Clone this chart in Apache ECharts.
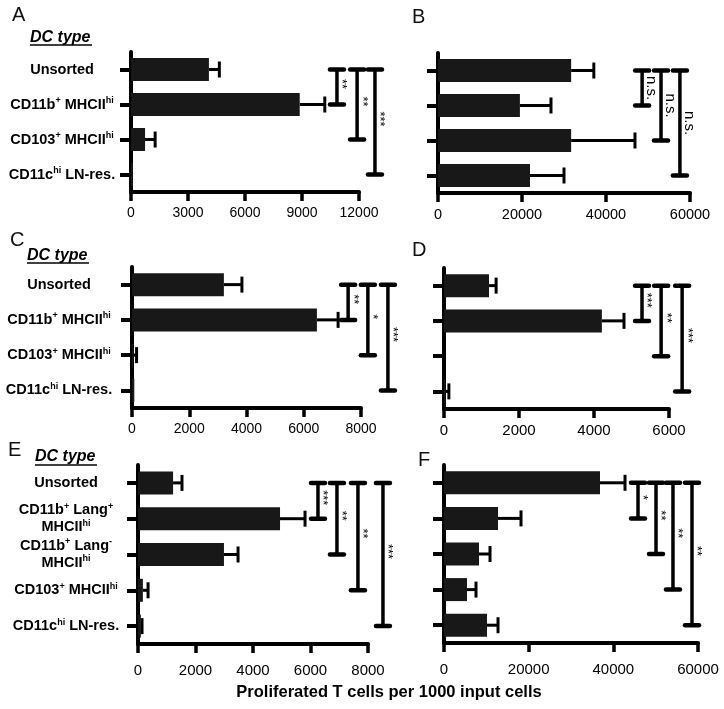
<!DOCTYPE html>
<html>
<head>
<meta charset="utf-8">
<script src="https://cdn.jsdelivr.net/npm/echarts@6/dist/echarts.min.js"></script>
<style>html,body{margin:0;padding:0;background:#fff}#c{width:724px;height:709px}</style>
</head>
<body>
<div id="c"></div>
<script>
// ---------- DATA ----------
const catsABCD = ['Unsorted', 'CD11b^+ MHCII^hi', 'CD103^+ MHCII^hi', 'CD11c^hi LN-res.'];
const catsEF = ['Unsorted', 'CD11b^+ Lang^+\nMHCII^hi', 'CD11b^+ Lang^-\nMHCII^hi', 'CD103^+ MHCII^hi', 'CD11c^hi LN-res.'];

const ticksA = [0, 3000, 6000, 9000, 12000];
const ticksB = [0, 20000, 40000, 60000];
const ticksC = [0, 2000, 4000, 6000, 8000];
const ticksD = [0, 2000, 4000, 6000];
const ticksE = [0, 2000, 4000, 6000, 8000];
const ticksF = [0, 20000, 40000, 60000];

const meanA = [4100, 8880, 740, 90];
const semA  = [550, 1320, 530, 0];
const meanB = [31700, 19500, 31700, 21900];
const semB  = [5400, 7400, 15200, 8100];
const meanC = [3210, 6460, 50, 80];
const semC  = [630, 740, 110, 0];
const meanD = [1200, 4210, 0, 40];
const semD  = [190, 590, 0, 90];
const meanE = [1220, 4940, 2990, 170, 100];
const semE  = [310, 870, 490, 180, 40];
const meanF = [36850, 12760, 8270, 5430, 10160];
const semF  = [5910, 5430, 2600, 2130, 2600];

// significance brackets: [x value, from category, to category]
const sigA = [[10840, 0, 1], [11900, 0, 2], [12840, 0, 3]];
const sigLabA = ['**', '**', '***'];
const sigB = [[48600, 0, 1], [53100, 0, 2], [57600, 0, 3]];
const sigLabB = ['n.s.', 'n.s.', 'n.s.'];
const sigC = [[7550, 0, 1], [8240, 0, 2], [8940, 0, 3]];
const sigLabC = ['**', '*', '***'];
const sigD = [[5280, 0, 1], [5790, 0, 2], [6350, 0, 3]];
const sigLabD = ['***', '**', '***'];
const sigE = [[6260, 0, 1], [6920, 0, 2], [7650, 0, 3], [8520, 0, 4]];
const sigLabE = ['***', '**', '**', '***'];
const sigF = [[45830, 0, 1], [50080, 0, 2], [54090, 0, 3], [58580, 0, 4]];
const sigLabF = ['*', '**', '**', '**'];

const panelLetters = ['A', 'B', 'C', 'D', 'E', 'F'];
const groupTitle = 'DC type';
const xTitle = 'Proliferated T cells per 1000 input cells';

// ---------- LAYOUT ----------
const FONT = "'Liberation Sans', Arial, Helvetica, sans-serif";
const panels = [
  {cats: catsABCD, ticks: ticksA, mean: meanA, sem: semA, sig: sigA, sigLab: sigLabA,
   left: 131, top: 52, width: 228, height: 140, tickFont: 14, xMargin: 14, showLabels: true, labMargin: 69},
  {cats: catsABCD, ticks: ticksB, mean: meanB, sem: semB, sig: sigB, sigLab: sigLabB,
   left: 438, top: 53, width: 252, height: 140, tickFont: 14.5, xMargin: 14, showLabels: false},
  {cats: catsABCD, ticks: ticksC, mean: meanC, sem: semC, sig: sigC, sigLab: sigLabC,
   left: 132, top: 267, width: 229, height: 141, tickFont: 14, xMargin: 14, showLabels: true, labMargin: 73},
  {cats: catsABCD, ticks: ticksD, mean: meanD, sem: semD, sig: sigD, sigLab: sigLabD,
   left: 444, top: 268, width: 225, height: 141, tickFont: 15, xMargin: 14, showLabels: false},
  {cats: catsEF, ticks: ticksE, mean: meanE, sem: semE, sig: sigE, sigLab: sigLabE,
   left: 138, top: 465, width: 230, height: 179, tickFont: 15, xMargin: 19, showLabels: true, labMargin: 72},
  {cats: catsEF, ticks: ticksF, mean: meanF, sem: semF, sig: sigF, sigLab: sigLabF,
   left: 444, top: 465, width: 254, height: 178, tickFont: 15, xMargin: 19, showLabels: false}
];

function richLabel(s) {
  return s.split('\n').map(function (line) {
    let out = '';
    const re = /([^\^]+)|\^(\S+)/g;
    let m;
    while ((m = re.exec(line)) !== null) {
      if (m[1] !== undefined) out += '{b|' + m[1] + '}';
      else out += '{s|' + m[2] + '}';
    }
    return out;
  }).join('\n');
}

const grids = [], xAxes = [], yAxes = [], series = [];
panels.forEach(function (p, i) {
  grids.push({left: p.left, top: p.top, width: p.width, height: p.height,
              containLabel: false, outerBoundsMode: 'none'});
  const t = p.ticks;
  xAxes.push({
    type: 'value', gridIndex: i, min: t[0], max: t[t.length - 1], interval: t[1] - t[0],
    splitLine: {show: false},
    axisLine: {show: true, lineStyle: {color: '#000', width: 4}},
    axisTick: {show: true, length: 9, lineStyle: {color: '#000', width: 3.5}},
    axisLabel: {show: true, color: '#000', fontFamily: FONT, fontSize: p.tickFont, margin: p.xMargin,
                showMinLabel: true, showMaxLabel: true,
                formatter: function (v) { return String(v); }}
  });
  yAxes.push({
    type: 'category', gridIndex: i, data: p.cats, inverse: true,
    axisLine: {show: true, lineStyle: {color: '#000', width: 4}},
    axisTick: {show: true, alignWithLabel: true, length: 11, lineStyle: {color: '#000', width: 4}},
    axisLabel: {
      show: p.showLabels, margin: p.labMargin || 8, align: 'center', interval: 0,
      formatter: richLabel,
      rich: {
        b: {fontFamily: FONT, fontWeight: 'bold', fontSize: 14.5, color: '#000', lineHeight: 17},
        s: {fontFamily: FONT, fontWeight: 'bold', fontSize: 9, color: '#000', verticalAlign: 'top', lineHeight: 17}
      }
    }
  });
  series.push({
    type: 'bar', xAxisIndex: i, yAxisIndex: i, data: p.mean, barWidth: 23,
    itemStyle: {color: '#181818'}, silent: true
  });
  const errData = p.mean.map(function (v, k) { return [k, v, v + p.sem[k]]; }).filter(function (d) { return d[2] > d[1]; });
  series.push({
    type: 'custom', xAxisIndex: i, yAxisIndex: i, clip: false, silent: true,
    encode: {x: [1, 2], y: 0},
    data: errData,
    renderItem: function (params, api) {
      const a = api.coord([api.value(1), api.value(0)]);
      const b = api.coord([api.value(2), api.value(0)]);
      return {type: 'group', children: [
        {type: 'line', shape: {x1: a[0], y1: a[1], x2: b[0], y2: b[1]}, style: {stroke: '#000', lineWidth: 3}},
        {type: 'line', shape: {x1: b[0], y1: b[1] - 8, x2: b[0], y2: b[1] + 8}, style: {stroke: '#000', lineWidth: 3}}
      ]};
    }
  });
  series.push({
    type: 'custom', xAxisIndex: i, yAxisIndex: i, clip: false, silent: true,
    encode: {x: 0, y: [1, 2]},
    data: p.sig.map(function (d, k) { return d.concat([k]); }),
    renderItem: function (params, api) {
      const k = api.value(3);
      const a = api.coord([api.value(0), api.value(1)]);
      const b = api.coord([api.value(0), api.value(2)]);
      const lab = p.sigLab[k];
      const isNS = lab === 'n.s.';
      const midY = (a[1] + b[1]) / 2 + (isNS ? 0 : -3);
      return {type: 'group', children: [
        {type: 'line', shape: {x1: a[0], y1: a[1], x2: b[0], y2: b[1]}, style: {stroke: '#000', lineWidth: 3.5}},
        {type: 'line', shape: {x1: a[0] - 7, y1: a[1], x2: a[0] + 7, y2: a[1]}, style: {stroke: '#000', lineWidth: 4.5, lineCap: 'round'}},
        {type: 'line', shape: {x1: b[0] - 7, y1: b[1], x2: b[0] + 7, y2: b[1]}, style: {stroke: '#000', lineWidth: 4.5, lineCap: 'round'}},
        {type: 'text', x: a[0] + (isNS ? 9 : 5), y: midY, rotation: -Math.PI / 2,
         style: {text: lab, x: 0, y: 0, align: 'center', verticalAlign: 'middle', fill: '#000',
                 font: (isNS ? '15px ' : '13px ') + FONT}}
      ]};
    }
  });
});

// ---------- GRAPHIC TEXT ----------
const letterPos = [[12, 15], [412, 17], [10, 240], [412, 250], [8, 450], [418, 460]];
const dcPos = [[30, 38, 45], [27, 256, 263], [35, 457, 465]];
const graphic = [];
panelLetters.forEach(function (L, i) {
  graphic.push({type: 'text', x: letterPos[i][0], y: letterPos[i][1],
    style: {text: L, font: '20px ' + FONT, fill: '#111', verticalAlign: 'middle', align: 'left'}});
});
dcPos.forEach(function (d) {
  graphic.push({type: 'text', x: d[0], y: d[1],
    style: {text: groupTitle, font: 'italic bold 16px ' + FONT, fill: '#000', verticalAlign: 'middle', align: 'left'}});
  graphic.push({type: 'line', shape: {x1: d[0], y1: d[2], x2: d[0] + 62, y2: d[2]}, style: {stroke: '#000', lineWidth: 1.5}});
});
graphic.push({type: 'text', x: 389, y: 692,
  style: {text: xTitle, font: 'bold 16.5px ' + FONT, fill: '#000', align: 'center', verticalAlign: 'middle'}});

const chart = echarts.init(document.getElementById('c'), null, {renderer: 'canvas'});
chart.setOption({
  animation: false,
  backgroundColor: '#fff',
  grid: grids,
  xAxis: xAxes,
  yAxis: yAxes,
  series: series,
  graphic: graphic
});
</script>
</body>
</html>
